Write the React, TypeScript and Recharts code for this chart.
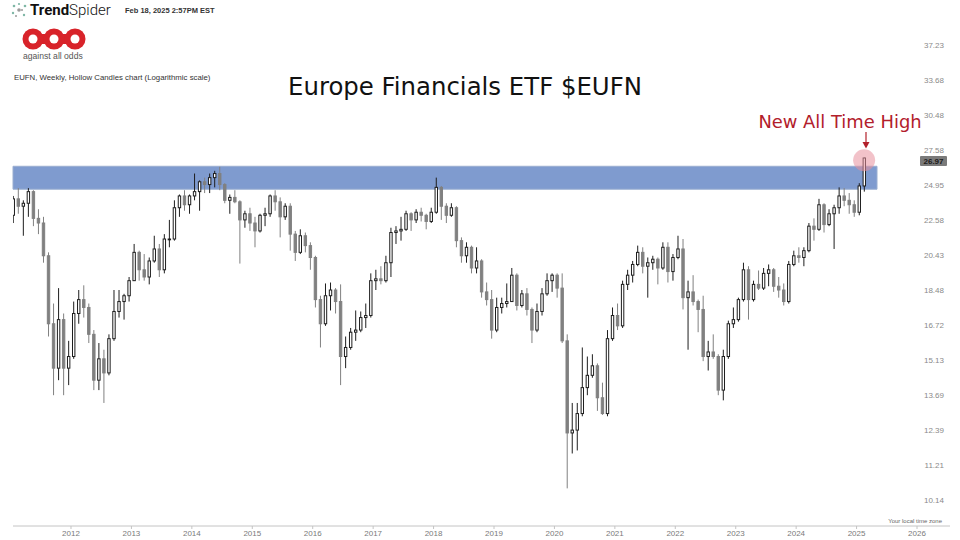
/**
 * EUFN weekly hollow-candle chart (log scale) with the 2014/2018 resistance band
 * and the Feb 2025 breakout marked.
 * Candles are monthly bars.
 */

import { ComposedChart, Bar, XAxis, YAxis, ReferenceArea, ReferenceDot } from 'recharts'

const FIRST_YEAR = 2011

// Jan 2011 -> Feb 2025, one value per month
const open = [
  /* 2011 */ 22.9, 24.0, 23.5, 23.7, 24.5, 22.7, 22.4, 20.4, 16.8, 14.8, 17.0, 14.8,
  /* 2012 */ 15.3, 17.3, 18.0, 17.6, 16.3, 14.3, 15.2, 14.6, 16.1, 17.4, 17.9, 18.2,
  /* 2013 */ 19.0, 20.6, 19.6, 19.2, 20.1, 20.8, 19.6, 21.4, 21.4, 23.4, 24.2, 23.6,
  /* 2014 */ 24.2, 24.5, 25.2, 25.0, 25.5, 25.8, 25.0, 23.9, 24.1, 23.8, 22.6, 23.0,
  /* 2015 */ 22.4, 21.9, 22.9, 23.0, 24.2, 23.8, 22.8, 23.5, 21.7, 20.6, 21.6, 21.0,
  /* 2016 */ 20.3, 18.0, 16.8, 18.2, 18.5, 17.9, 15.3, 15.7, 16.4, 16.5, 17.1, 17.2,
  /* 2017 */ 19.0, 19.1, 19.0, 20.0, 21.8, 21.9, 22.0, 23.0, 22.6, 23.1, 22.9, 22.5,
  /* 2018 */ 23.1, 24.8, 23.5, 22.9, 23.4, 21.3, 20.4, 20.9, 19.7, 20.1, 18.4, 18.0,
  /* 2019 */ 16.5, 17.6, 17.8, 17.9, 19.3, 17.7, 18.3, 17.5, 16.5, 17.4, 18.3, 19.0,
  /* 2020 */ 19.3, 18.6, 16.0, 12.3, 12.4, 13.0, 14.0, 14.5, 14.9, 13.6, 13.0, 16.1,
  /* 2021 */ 17.2, 16.7, 18.8, 19.3, 19.9, 20.6, 19.8, 20.0, 20.2, 19.7, 20.9, 19.5,
  /* 2022 */ 20.3, 20.8, 18.1, 18.4, 17.9, 17.5, 15.3, 15.5, 15.3, 13.9, 15.3, 16.8,
  /* 2023 */ 17.0, 18.0, 19.6, 18.0, 18.8, 18.6, 19.4, 19.6, 18.7, 18.5, 17.9, 19.9,
  /* 2024 */ 20.4, 20.3, 20.7, 22.2, 22.0, 23.6, 22.3, 23.0, 23.4, 24.2, 23.9, 23.6,
  /* 2025 */ 23.1, 24.9,
]

const high = [
  /* 2011 */ 24.2, 24.75, 23.9, 24.75, 24.6, 23.3, 22.8, 20.6, 17.8, 18.6, 17.3, 16.0,
  /* 2012 */ 17.9, 18.5, 18.75, 17.8, 16.5, 15.9, 15.6, 16.3, 18.5, 18.5, 18.3, 19.2,
  /* 2013 */ 21.1, 20.7, 20.5, 20.3, 21.6, 21.1, 21.7, 22.6, 23.9, 24.3, 24.6, 24.3,
  /* 2014 */ 25.8, 25.3, 25.5, 25.8, 26.0, 26.3, 25.1, 24.3, 24.6, 23.9, 23.2, 23.4,
  /* 2015 */ 22.8, 23.0, 23.4, 24.3, 24.6, 24.1, 23.7, 23.7, 21.9, 22.0, 21.8, 21.2,
  /* 2016 */ 20.4, 18.2, 18.85, 18.9, 18.6, 18.8, 16.2, 16.6, 17.45, 17.4, 17.8, 19.4,
  /* 2017 */ 19.6, 19.8, 20.4, 22.1, 22.2, 22.8, 23.2, 23.1, 23.3, 23.4, 23.0, 23.4,
  /* 2018 */ 25.5, 24.9, 23.7, 23.7, 23.5, 21.5, 21.2, 21.0, 20.9, 20.2, 18.9, 18.5,
  /* 2019 */ 18.1, 18.1, 18.85, 19.7, 19.4, 18.5, 18.6, 17.6, 17.8, 18.6, 19.4, 19.4,
  /* 2020 */ 19.4, 19.4, 16.3, 13.4, 13.4, 15.7, 15.3, 15.4, 15.0, 14.2, 16.5, 17.6,
  /* 2021 */ 17.8, 19.0, 19.6, 20.1, 21.0, 20.9, 20.3, 20.4, 20.3, 21.2, 21.2, 20.5,
  /* 2022 */ 21.6, 21.4, 19.0, 19.3, 18.0, 18.2, 16.0, 16.3, 15.4, 15.6, 16.95, 17.6,
  /* 2023 */ 18.1, 20.0, 19.8, 19.0, 19.56, 19.7, 19.9, 19.7, 19.2, 18.85, 20.1, 20.7,
  /* 2024 */ 20.9, 20.9, 22.4, 22.7, 24.0, 23.7, 23.3, 23.6, 24.8, 24.75, 24.4, 23.9,
  /* 2025 */ 25.1, 27.0,
]

const low = [
  /* 2011 */ 22.4, 23.0, 21.6, 22.8, 22.2, 21.7, 20.0, 16.2, 13.7, 14.3, 13.7, 14.1,
  /* 2012 */ 15.2, 16.8, 17.1, 15.9, 13.9, 13.9, 13.4, 14.5, 16.0, 17.1, 17.0, 17.9,
  /* 2013 */ 19.0, 19.0, 19.0, 18.8, 20.0, 19.2, 19.4, 20.9, 21.3, 22.8, 23.2, 23.0,
  /* 2014 */ 23.9, 23.2, 24.4, 24.4, 24.8, 24.6, 23.7, 23.0, 23.7, 19.95, 22.1, 21.9,
  /* 2015 */ 20.9, 21.8, 22.2, 22.8, 23.2, 21.5, 22.6, 20.7, 20.1, 20.5, 20.6, 19.6,
  /* 2016 */ 17.6, 15.7, 16.7, 17.45, 17.3, 14.1, 14.8, 15.6, 16.0, 16.4, 16.6, 17.1,
  /* 2017 */ 18.5, 18.8, 18.9, 19.2, 21.1, 21.3, 21.9, 21.9, 22.4, 22.5, 22.0, 22.4,
  /* 2018 */ 23.0, 22.6, 22.4, 22.8, 20.9, 20.0, 20.0, 19.4, 19.4, 18.1, 17.7, 16.1,
  /* 2019 */ 16.4, 17.3, 17.6, 17.9, 17.45, 17.6, 17.2, 15.9, 16.4, 17.2, 18.2, 18.4,
  /* 2020 */ 18.1, 15.9, 10.5, 11.6, 11.7, 12.9, 13.7, 14.4, 13.1, 12.95, 12.9, 16.0,
  /* 2021 */ 16.5, 16.6, 18.5, 18.9, 19.8, 19.4, 18.1, 19.6, 18.8, 19.6, 18.9, 19.0,
  /* 2022 */ 20.2, 17.5, 15.6, 17.7, 16.4, 15.1, 14.7, 15.2, 13.7, 13.5, 15.2, 16.6,
  /* 2023 */ 16.9, 17.9, 17.0, 17.9, 18.5, 18.5, 18.7, 18.4, 18.1, 17.7, 17.8, 19.8,
  /* 2024 */ 20.0, 19.8, 20.6, 21.3, 21.9, 21.8, 22.2, 20.8, 23.0, 23.5, 23.0, 22.8,
  /* 2025 */ 22.9, 24.5,
]

const close = [
  /* 2011 */ 24.0, 23.5, 23.7, 24.5, 22.7, 22.4, 20.4, 16.8, 14.8, 17.0, 14.8, 15.3,
  /* 2012 */ 17.3, 18.0, 17.6, 16.3, 14.3, 15.2, 14.6, 16.1, 17.4, 17.9, 18.2, 19.0,
  /* 2013 */ 20.6, 19.6, 19.2, 20.1, 20.8, 19.6, 21.4, 21.4, 23.4, 24.2, 23.6, 24.2,
  /* 2014 */ 24.5, 25.2, 25.0, 25.5, 25.8, 25.0, 23.9, 24.1, 23.8, 22.6, 23.0, 22.4,
  /* 2015 */ 21.9, 22.9, 23.0, 24.2, 23.8, 22.8, 23.5, 21.7, 20.6, 21.6, 21.0, 20.3,
  /* 2016 */ 18.0, 16.8, 18.2, 18.5, 17.9, 15.3, 15.7, 16.4, 16.5, 17.1, 17.2, 19.0,
  /* 2017 */ 19.1, 19.0, 20.0, 21.8, 21.9, 22.0, 23.0, 22.6, 23.1, 22.9, 22.5, 23.1,
  /* 2018 */ 24.8, 23.5, 22.9, 23.4, 21.3, 20.4, 20.9, 19.7, 20.1, 18.4, 18.0, 16.5,
  /* 2019 */ 17.6, 17.8, 17.9, 19.3, 17.7, 18.3, 17.5, 16.5, 17.4, 18.3, 19.0, 19.3,
  /* 2020 */ 18.6, 16.0, 12.3, 12.4, 13.0, 14.0, 14.5, 14.9, 13.6, 13.0, 16.1, 17.2,
  /* 2021 */ 16.7, 18.8, 19.3, 19.9, 20.6, 19.8, 20.0, 20.2, 19.7, 20.9, 19.5, 20.3,
  /* 2022 */ 20.8, 18.1, 18.4, 17.9, 17.5, 15.3, 15.5, 15.3, 13.9, 15.3, 16.8, 17.0,
  /* 2023 */ 18.0, 19.6, 18.0, 18.8, 18.6, 19.4, 19.6, 18.7, 18.5, 17.9, 19.9, 20.4,
  /* 2024 */ 20.3, 20.7, 22.2, 22.0, 23.6, 22.3, 23.0, 23.4, 24.2, 23.9, 23.6, 23.1,
  /* 2025 */ 24.9, 26.97,
]

const yTicks = [10.14, 11.21, 12.39, 13.69, 15.13, 16.72, 18.48, 20.43, 22.58, 24.95, 27.58, 30.48, 33.68, 37.23]
const xTicks = [2012, 2013, 2014, 2015, 2016, 2017, 2018, 2019, 2020, 2021, 2022, 2023, 2024, 2025, 2026]

// resistance band (2014 / 2018 highs) and the breakout
const zoneLow = 24.67
const zoneHigh = 26.34
const zoneEnd = 2025.338
const athX = 2025.125
const athY = 26.8
const lastPrice = 26.97

const X_DOMAIN: [number, number] = [2011.0402, 2026.546]
const Y_DOMAIN: [number, number] = [9.43, 38.87]

const FONT = "'Liberation Sans', Arial, sans-serif"
const TITLE_FONT = "'DejaVu Sans', sans-serif"

// one record per month; x sits mid-month on a year axis
const candles = open.map((o, i) => ({
  t: FIRST_YEAR + (i + 0.5) / 12,
  o,
  h: high[i],
  l: low[i],
  c: close[i],
  prev: i > 0 ? close[i - 1] : o,
}))

type CandleRow = (typeof candles)[number]

/**
 * Bar gives us the pixel box for [low, high]; open/close are placed inside it
 * on the same log scale.
 */
function Candle(props: any) {
  const { x, y, width, height, payload } = props
  if (x == null || y == null || !payload) return null
  const { o, h, l, c, prev } = payload as CandleRow

  const top = Math.min(y, y + height)
  const span = Math.abs(height)
  const logRange = Math.log(h) - Math.log(l)
  const toY = (v: number) => top + (logRange > 0 ? (span * (Math.log(h) - Math.log(v))) / logRange : 0)

  const color = c >= prev ? '#1e1e1e' : '#808080'
  const cx = x + width / 2
  const bodyTop = toY(Math.max(o, c))
  const bodyBottom = toY(Math.min(o, c))
  const hollow = c > o

  return (
    <g>
      <line x1={cx} x2={cx} y1={top} y2={top + span} stroke={color} strokeWidth={1} />
      <rect
        x={x + 0.5}
        y={bodyTop}
        width={Math.max(width - 1, 0.5)}
        height={Math.max(bodyBottom - bodyTop, 0.8)}
        fill={hollow ? '#ffffff' : color}
        stroke={color}
        strokeWidth={1}
      />
    </g>
  )
}

function Header() {
  return (
    <svg
      width={960}
      height={540}
      style={{ position: 'absolute', left: 0, top: 0, pointerEvents: 'none' }}
    >
      {/* TrendSpider mark */}
      <g fill="#7fb7a6">
        <circle cx={14} cy={6} r={1.3} />
        <circle cx={19} cy={4} r={1.1} />
        <circle cx={25} cy={6} r={1.3} />
        <circle cx={13} cy={13} r={1.2} />
        <circle cx={24} cy={15} r={1.2} />
      </g>
      <g fill="#9a9a9a">
        <circle cx={19} cy={10} r={1.8} />
        <circle cx={16} cy={16} r={1} />
        <circle cx={22} cy={10} r={1} />
      </g>
      <text x={30} y={15} fontSize={15} fontFamily="Roboto, sans-serif" fill="#111">
        <tspan fontWeight={700}>Trend</tspan>
        <tspan fontWeight={300}>Spider</tspan>
      </text>
      <text x={125} y={13} fontSize={7.5} fontFamily={FONT} fill="#333" fontWeight={600}>
        Feb 18, 2025 2:57PM EST
      </text>

      {/* against all odds logo */}
      <g fill="#d8232a">
        <rect x={33} y={34} width={42} height={10} />
        <circle cx={33} cy={39} r={10.5} />
        <circle cx={54} cy={39} r={10.5} />
        <circle cx={75} cy={39} r={10.5} />
      </g>
      <g fill="#ffffff">
        <circle cx={33} cy={39} r={4.5} />
        <circle cx={54} cy={39} r={4.5} />
        <circle cx={75} cy={39} r={4.5} />
      </g>
      <text x={23} y={59} fontSize={8.6} fontFamily={FONT} fill="#555">
        against all odds
      </text>

      <text x={14} y={80} fontSize={7.8} fontFamily={FONT} fill="#333">
        EUFN, Weekly, Hollow Candles chart (Logarithmic scale)
      </text>

      <text x={465} y={95} fontSize={24.4} textAnchor="middle" fontFamily={TITLE_FONT} fill="#111">
        Europe Financials ETF $EUFN
      </text>

      {/* breakout callout */}
      <text x={840} y={128} fontSize={17.9} textAnchor="middle" fontFamily={TITLE_FONT} fill="#b2202b">
        New All Time High
      </text>
      <line x1={866} x2={866} y1={132} y2={143} stroke="#b2202b" strokeWidth={1.2} />
      <polygon points="862.5,142 869.5,142 866,148.5" fill="#b2202b" />

      {/* last price tag */}
      <rect x={920} y={156} width={27} height={10} rx={1} fill="#7a7a7a" />
      <text x={933.5} y={163.8} fontSize={8} textAnchor="middle" fontFamily={FONT} fontWeight={700} fill="#1a1a1a">
        {lastPrice.toFixed(2)}
      </text>

      <text x={942} y={523} fontSize={6} textAnchor="end" fontFamily={FONT} fill="#666">
        Your local time zone
      </text>
    </svg>
  )
}

export default function App() {
  return (
    <div style={{ position: 'absolute', left: 0, top: 0, width: 960, height: 540, background: '#fff' }}>
      <ComposedChart width={960} height={540} data={candles} margin={{ top: 30, right: 10, bottom: 0, left: 13 }}>
        <XAxis
          type="number"
          dataKey="t"
          domain={X_DOMAIN}
          allowDataOverflow
          ticks={xTicks}
          interval={0}
          height={14}
          tickFormatter={(v: number) => String(v)}
          tick={{ fontSize: 8, fill: '#7a7a7a', fontFamily: FONT }}
          tickSize={3}
          tickMargin={1}
          stroke="#c4c4c4"
        />
        <YAxis
          orientation="right"
          mirror
          width={60}
          scale="log"
          domain={Y_DOMAIN}
          allowDataOverflow
          ticks={yTicks}
          interval={0}
          tickFormatter={(v: number) => v.toFixed(2)}
          tick={{ fontSize: 8, fill: '#8a8a8a', fontFamily: FONT }}
          tickSize={0}
          tickMargin={6}
          axisLine={false}
          tickLine={false}
        />

        <ReferenceArea
          x1={X_DOMAIN[0]}
          x2={zoneEnd}
          y1={zoneLow}
          y2={zoneHigh}
          fill="#7f9bcf"
          fillOpacity={1}
          stroke="#9aaed0"
          strokeWidth={1}
        />

        <Bar
          dataKey={(d: CandleRow) => [d.l, d.h]}
          barSize={3.4}
          shape={(p: any) => <Candle {...p} />}
          isAnimationActive={false}
        />

        <ReferenceDot x={athX} y={athY} r={11} fill="#e8909c" fillOpacity={0.55} stroke="none" />
      </ComposedChart>
      <Header />
    </div>
  )
}
